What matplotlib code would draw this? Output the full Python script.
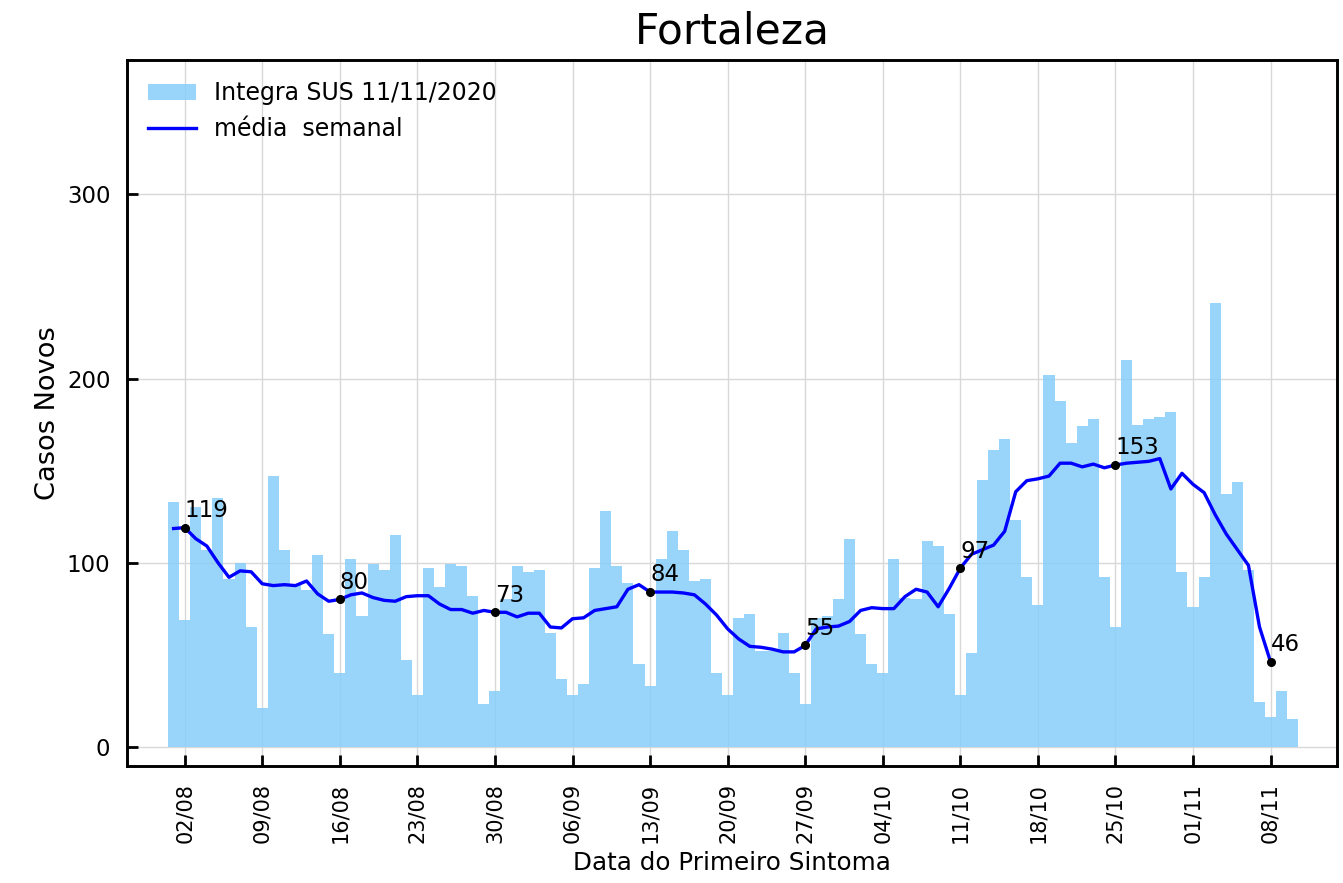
import numpy as np
import pandas as pd
import matplotlib
matplotlib.use("Agg")
import matplotlib.pyplot as plt
import matplotlib.dates as mdates

# casos novos por data do primeiro sintoma (01/08 a 10/11)
casos_ago = [133, 69, 130, 107, 135, 91, 100, 65, 21, 147, 107, 88, 85, 104, 61, 40,
             102, 71, 99, 96, 115, 47, 28, 97, 87, 99, 98, 82, 23, 30, 80]
casos_set = [98, 95, 96, 62, 37, 28, 34, 97, 128, 98, 89, 45, 33, 102, 117, 107,
             90, 91, 40, 28, 70, 72, 52, 52, 62, 40, 23, 70, 71, 80]
casos_out = [113, 61, 45, 40, 102, 81, 80, 112, 109, 72, 28, 51, 145, 161, 167, 123,
             92, 77, 202, 188, 165, 174, 178, 92, 65, 210, 175, 178, 179, 182, 95]
casos_nov = [76, 92, 241, 137, 144, 96, 24, 16, 30, 15]

# media semanal (01/08 a 08/11)
media_ago = [118.5, 119, 113, 109, 100, 92, 95.5, 95, 88.5, 87.5, 88, 87.5, 90, 83, 79,
             80, 82.5, 83.5, 81, 79.5, 79, 81.5, 82, 82, 77.5, 74.5, 74.5, 72.5, 74, 73, 73]
media_set = [70.5, 72.5, 72.5, 65, 64.5, 69.5, 70, 74, 75, 76, 85.5, 88, 84, 84, 84,
             83.5, 82.5, 77.5, 71.5, 64, 58.5, 54.5, 54, 53, 51.5, 51.5, 55, 64, 65, 65.5]
media_out = [68, 74, 75.5, 75, 75, 81.5, 85.5, 84, 76, 86, 97, 104.5, 107, 109.5, 117,
             138.5, 144.5, 145.5, 147, 154, 154, 152, 153.5, 151.5, 153, 154, 154.5, 155,
             156.5, 140, 148.5]
media_nov = [142.5, 138, 126, 115.5, 107, 98.5, 65, 46]

casos = casos_ago + casos_set + casos_out + casos_nov
media = media_ago + media_set + media_out + media_nov

datas = pd.date_range("2020-08-01", periods=len(casos), freq="D")
datas_media = pd.date_range("2020-08-01", periods=len(media), freq="D")
media_s = pd.Series(media, index=datas_media)

# pontos marcados a cada 14 dias
marcas = pd.date_range("2020-08-02", "2020-11-08", freq="14D")
ticks = pd.date_range("2020-08-02", "2020-11-08", freq="7D")

fig = plt.figure(figsize=(13.43, 8.83), dpi=100)
ax = fig.add_axes([0.0946, 0.1325, 0.901, 0.7995])

barras = ax.bar(datas, casos, width=1.0, color="lightskyblue", alpha=0.85,
                label="Integra SUS 11/11/2020", zorder=2)
linha, = ax.plot(datas_media, media, color="blue", lw=2.4, label="média  semanal", zorder=3)

for d in marcas:
    v = media_s[d]
    ax.plot(d, v, "o", color="black", ms=5.5, zorder=4)
    ax.annotate(str(int(round(v))), (d, v), xytext=(0, 4), textcoords="offset points",
                ha="left", va="bottom", fontsize=16.5, zorder=5)

ax.set_xticks(ticks)
ax.xaxis.set_major_formatter(mdates.DateFormatter("%d/%m"))
ax.set_xlim(pd.Timestamp("2020-08-02") - pd.Timedelta(days=5.2),
            pd.Timestamp("2020-08-02") + pd.Timedelta(days=104))
ax.set_ylim(-10.5, 373)
ax.set_yticks([0, 100, 200, 300])

ax.grid(True, color="#d8d8d8", lw=1, zorder=1)
ax.set_axisbelow(True)
ax.tick_params(axis="both", direction="in", length=8, width=2, pad=12)
ax.tick_params(axis="x", labelrotation=90, labelsize=15)
ax.tick_params(axis="y", labelsize=16.5)
for s in ax.spines.values():
    s.set_linewidth(2.1)

ax.set_title("Fortaleza", fontsize=30.5, pad=12)
ax.set_ylabel("Casos Novos", fontsize=19.6)
ax.set_xlabel("Data do Primeiro Sintoma", fontsize=17.7, labelpad=6)
ax.legend([barras, linha], ["Integra SUS 11/11/2020", "média  semanal"],
          loc="upper left", frameon=False, fontsize=17)

fig.savefig("out.png", dpi=100)
